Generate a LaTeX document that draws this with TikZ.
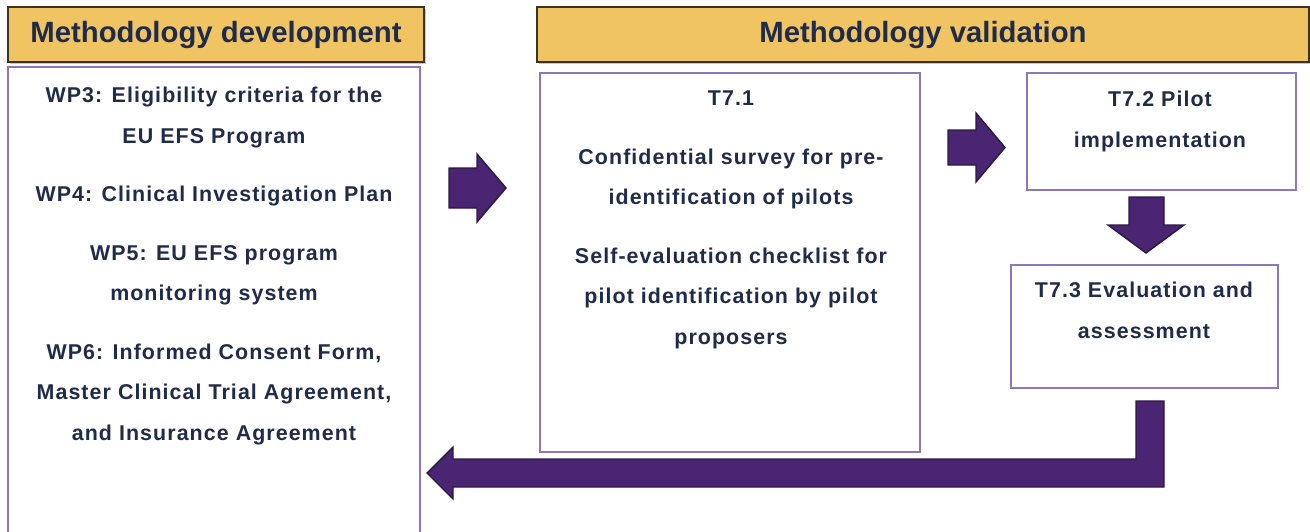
\documentclass[tikz,border=0pt]{standalone}
\usepackage{fontspec}
\setmainfont{Liberation Sans}
\newfontfamily\spacedfont[LetterSpace=5]{Liberation Sans}
\usepackage{xcolor}
\usetikzlibrary{positioning,shadows}

\definecolor{headgold}{HTML}{F0C462}
\definecolor{headline}{HTML}{3A3424}
\definecolor{inkblue}{HTML}{1F2B4A}
\definecolor{boxline}{HTML}{8C78B8}
\definecolor{arrowfill}{HTML}{4A2672}
\definecolor{arrowline}{HTML}{2B1845}

\begin{document}
\begin{tikzpicture}[
    x=1pt, y=-1pt,
    header/.style={draw=headline, line width=1.2pt, fill=headgold, inner sep=0pt,
        minimum height=55pt, text=inkblue,
        font=\fontsize{29.3}{30}\selectfont\bfseries,
        drop shadow={opacity=0.45, shadow xshift=1.5pt, shadow yshift=-1.5pt}},
    taskbox/.style={draw=boxline, line width=1.6pt, fill=white, inner sep=0pt},
    boxtext/.style={anchor=north, align=center, inner sep=0pt, text=inkblue,
        font=\spacedfont\fontsize{21.4}{40.5}\selectfont\bfseries},
    blockarrow/.style={fill=arrowfill, draw=arrowline, line width=1.4pt, line join=miter}
]
\useasboundingbox (0,0) rectangle (1310,531);
\clip (0,0) rectangle (1310,531);

% Column headers
\node[header, minimum width=416pt] (devhead) at (216,34.5) {\raisebox{-1.5pt}{Methodology development}};
\node[header, minimum width=772pt] (valhead) at (923,34.5) {\raisebox{-1.5pt}{Methodology validation}};

% Boxes
\node[taskbox, minimum width=412pt, minimum height=480pt] (wpbox) at (214,307) {};
\node[taskbox, minimum width=380pt, minimum height=379pt] (tonebox) at (730,262.5) {};
\node[taskbox, minimum width=269pt, minimum height=117pt] (ttwobox) at (1161.5,131.5) {};
\node[taskbox, minimum width=267pt, minimum height=123pt] (tthreebox) at (1144.5,326.5) {};

% Box contents
\node[boxtext] (wptext) at (214,87) {WP3: Eligibility criteria for the\\
    EU EFS Program\\[18pt]
    WP4: Clinical Investigation Plan\\[18pt]
    WP5: EU EFS program\\
    monitoring system\\[18pt]
    WP6: Informed Consent Form,\\
    Master Clinical Trial Agreement,\\
    and Insurance Agreement};
\node[boxtext] (tonetext) at (731,91) {T7.1\\[18pt]
    Confidential survey for pre-\\
    identification of pilots\\[18pt]
    Self-evaluation checklist for\\
    pilot identification by pilot\\
    proposers};
\node[boxtext] (ttwotext) at (1160,91) {T7.2 Pilot\\ implementation};
\node[boxtext] (tthreetext) at (1144,282) {T7.3 Evaluation and\\ assessment};

% Block arrows
\draw[blockarrow] (449,168) -- (477,168) -- (477,154) -- (506,188)
    -- (477,222) -- (477,208) -- (449,208) -- cycle;
\draw[blockarrow] (948,130) -- (976,130) -- (976,113) -- (1005,147.5)
    -- (976,182) -- (976,165) -- (948,165) -- cycle;
\draw[blockarrow] (1129,197) -- (1164,197) -- (1164,225) -- (1184,225)
    -- (1146,253) -- (1108,225) -- (1129,225) -- cycle;
% return arrow back to the development column
\draw[blockarrow] (1136,401) -- (1164,401) -- (1164,487) -- (453,487)
    -- (453,499) -- (427,473) -- (453,447) -- (453,459) -- (1136,459) -- cycle;

\end{tikzpicture}
\end{document}
